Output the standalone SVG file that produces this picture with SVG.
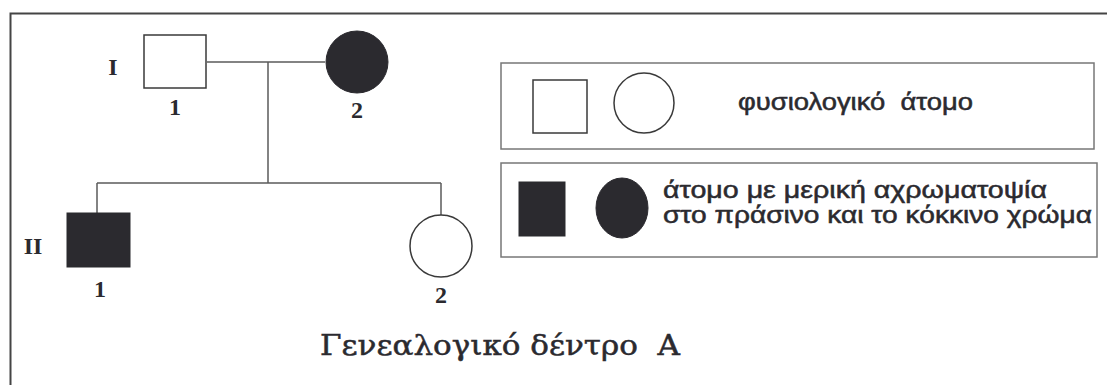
<svg xmlns="http://www.w3.org/2000/svg" width="1107" height="385" viewBox="0 0 1107 385">
<style>
.ln{fill:none;stroke:#5a5a5a;stroke-width:1.5}
.sym{fill:#fff;stroke:#3a3a3a;stroke-width:1.5}
.aff{fill:#2b2a2f;stroke:#2b2a2f;stroke-width:1}
.lbl{font-family:"Liberation Serif","DejaVu Serif",serif;font-weight:bold;font-size:24px;fill:#2b2a2f;text-anchor:middle}
.leg{font-family:"Liberation Sans","DejaVu Sans",sans-serif;font-size:23px;fill:#2b2a2f;stroke:#2b2a2f;stroke-width:0.5}
.box{fill:none;stroke:#777;stroke-width:1.5}
</style>
<rect width="1107" height="385" fill="#fff"/>
<g id="frame">
<path d="M10.5 385 V13.5 H1107" fill="none" stroke="#444" stroke-width="2"/>
</g>
<g id="connectors">
<path class="ln" d="M207 62 H325"/>
<path class="ln" d="M268 62 V183"/>
<path class="ln" d="M97 183 H441"/>
<path class="ln" d="M97 183 V213"/>
<path class="ln" d="M441 183 V215"/>
</g>
<g id="gen-labels">
<text class="lbl" x="113" y="75">I</text>
<text class="lbl" x="33" y="254">II</text>
</g>
<g id="I-1">
<rect class="sym" x="144" y="35" width="62" height="53"/>
<text class="lbl" x="175" y="115">1</text>
</g>
<g id="I-2">
<circle class="aff" cx="357" cy="62" r="31"/>
<text class="lbl" x="357" y="118">2</text>
</g>
<g id="II-1">
<rect class="aff" x="67" y="213" width="63" height="54"/>
<text class="lbl" x="100" y="297">1</text>
</g>
<g id="II-2">
<circle class="sym" cx="441" cy="246" r="31"/>
<text class="lbl" x="441" y="303">2</text>
</g>
<g id="title">
<text x="320" y="355" font-family="'DejaVu Serif','Liberation Serif',serif" font-size="28" fill="#2b2a2f" stroke="#2b2a2f" stroke-width="0.5" textLength="360" lengthAdjust="spacingAndGlyphs" xml:space="preserve">Γενεαλογικό δέντρο  Α</text>
</g>
<g id="legend-normal">
<rect class="box" x="501" y="63" width="593" height="86"/>
<rect class="sym" x="533" y="80" width="54" height="53"/>
<circle class="sym" cx="644" cy="103" r="30"/>
<text class="leg" x="738" y="110" textLength="235" lengthAdjust="spacingAndGlyphs" font-size="21" xml:space="preserve">φυσιολογικό  άτομο</text>
</g>
<g id="legend-affected">
<rect class="box" x="501" y="163" width="596" height="94"/>
<rect class="aff" x="519" y="182" width="46" height="54"/>
<ellipse class="aff" cx="622" cy="208" rx="26" ry="30"/>
<text class="leg" x="663" y="198" textLength="384" lengthAdjust="spacingAndGlyphs">άτομο με μερική αχρωματοψία</text>
<text class="leg" x="663" y="223" textLength="429" lengthAdjust="spacingAndGlyphs">στο πράσινο και το κόκκινο χρώμα</text>
</g>
</svg>
